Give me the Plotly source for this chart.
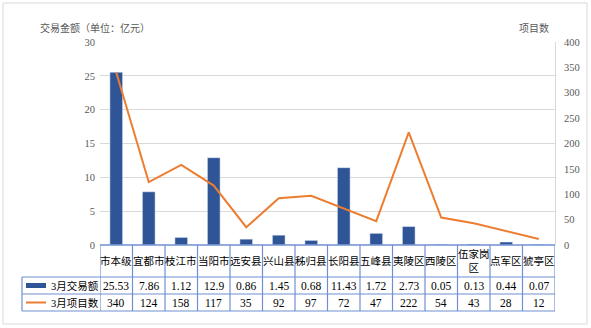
import plotly.graph_objects as go

# 各区县3月交易额（亿元）与项目数
regions = ["市本级", "宜都市", "枝江市", "当阳市", "远安县", "兴山县", "秭归县",
           "长阳县", "五峰县", "夷陵区", "西陵区", "伍家岗区", "点军区", "猇亭区"]
amount = [25.53, 7.86, 1.12, 12.9, 0.86, 1.45, 0.68, 11.43, 1.72, 2.73, 0.05, 0.13, 0.44, 0.07]
projects = [340, 124, 158, 117, 35, 92, 97, 72, 47, 222, 54, 43, 28, 12]
series_names = ["3月交易额", "3月项目数"]
left_ticks = [0, 5, 10, 15, 20, 25, 30]
right_ticks = [0, 50, 100, 150, 200, 250, 300, 350, 400]

BLUE = "#2F5597"
ORANGE = "#ED7D31"
GRID = "#D9D9D9"
TABLE = "#6F8FD2"
TXT = "#595959"
FONT = "Liberation Serif, Noto Sans CJK SC, serif"

W, H = 591, 328
L, R, T, B = 100, 36, 42, 83
PW, PH = W - L - R, H - T - B


def px_x(p):
    return (p - L) / PW


def px_y(p):
    return (H - B - p) / PH


idx = list(range(len(regions)))

fig = go.Figure()
fig.add_trace(go.Bar(x=idx, y=amount, marker_color=BLUE, width=0.39,
                     name=series_names[0], showlegend=False))
fig.add_trace(go.Scatter(x=idx, y=projects, mode="lines", yaxis="y2",
                         line=dict(color=ORANGE, width=2),
                         name=series_names[1], showlegend=False))

shapes = []
annotations = []

# data table under the plot: header row, two value rows
row_tops = [245, 277, 294, 311]
for k, yy in enumerate(row_tops[1:]):
    shapes.append(dict(type="line", xref="paper", yref="paper",
                       x0=px_x(22), x1=1, y0=px_y(yy), y1=px_y(yy),
                       line=dict(color=TABLE, width=1.2)))
shapes.append(dict(type="line", xref="paper", yref="paper",
                   x0=0, x1=1, y0=0, y1=0, line=dict(color=TABLE, width=1.5)))
for i in range(len(regions) + 1):
    shapes.append(dict(type="line", xref="x", yref="paper",
                       x0=i - 0.5, x1=i - 0.5, y0=0, y1=px_y(311),
                       line=dict(color=TABLE, width=1.2)))
shapes.append(dict(type="line", xref="paper", yref="paper",
                   x0=px_x(22), x1=px_x(22), y0=px_y(277), y1=px_y(311),
                   line=dict(color=TABLE, width=1.2)))

# legend keys inside the table
shapes.append(dict(type="rect", xref="paper", yref="paper",
                   x0=px_x(26), x1=px_x(46), y0=px_y(288), y1=px_y(283),
                   fillcolor=BLUE, line=dict(width=0)))
shapes.append(dict(type="line", xref="paper", yref="paper",
                   x0=px_x(26), x1=px_x(46), y0=px_y(302.5), y1=px_y(302.5),
                   line=dict(color=ORANGE, width=2)))
for name, yy in zip(series_names, [285.5, 302.5]):
    annotations.append(dict(text=name, xref="paper", yref="paper",
                            x=px_x(49), y=px_y(yy), xanchor="left", yanchor="middle",
                            showarrow=False, font=dict(family=FONT, size=10.5, color="#000")))

for i, name in enumerate(regions):
    label = name if len(name) <= 3 else name[:3] + "<br>" + name[3:]
    annotations.append(dict(text=label, xref="x", yref="paper", x=i, y=px_y(261),
                            xanchor="center", yanchor="middle", showarrow=False,
                            font=dict(family=FONT, size=10.5, color="#000")))
    annotations.append(dict(text=str(amount[i]), xref="x", yref="paper", x=i, y=px_y(285.5),
                            xanchor="center", yanchor="middle", showarrow=False,
                            font=dict(family=FONT, size=11.5, color="#000")))
    annotations.append(dict(text=str(projects[i]), xref="x", yref="paper", x=i, y=px_y(302.5),
                            xanchor="center", yanchor="middle", showarrow=False,
                            font=dict(family=FONT, size=11.5, color="#000")))

# axis titles
annotations.append(dict(text="交易金额（单位：亿元）", xref="paper", yref="paper",
                        x=px_x(38), y=px_y(28), xanchor="left", yanchor="middle",
                        showarrow=False, font=dict(family=FONT, size=10, color=TXT)))
annotations.append(dict(text="项目数", xref="paper", yref="paper",
                        x=px_x(534), y=px_y(28), xanchor="center", yanchor="middle",
                        showarrow=False, font=dict(family=FONT, size=10, color=TXT)))

# chart frame
shapes.append(dict(type="rect", xref="paper", yref="paper",
                   x0=px_x(3), x1=px_x(587), y0=px_y(324), y1=px_y(3),
                   line=dict(color=GRID, width=1), fillcolor="rgba(0,0,0,0)"))

fig.update_layout(
    width=W, height=H,
    margin=dict(l=L, r=R, t=T, b=B),
    paper_bgcolor="white", plot_bgcolor="white",
    showlegend=False,
    xaxis=dict(range=[-0.5, len(regions) - 0.5], showticklabels=False, ticks="",
               showgrid=False, zeroline=False, showline=False),
    yaxis=dict(range=[0, 30], tickvals=left_ticks, showgrid=True, gridcolor=GRID,
               gridwidth=1, zeroline=False, showline=False, ticks="",
               tickfont=dict(family=FONT, size=10.5, color=TXT), ticklabelstandoff=4),
    yaxis2=dict(range=[0, 400], tickvals=right_ticks, overlaying="y", side="right",
                showgrid=False, zeroline=False, showline=True, linecolor=GRID,
                ticks="", tickfont=dict(family=FONT, size=10.5, color=TXT),
                ticklabelstandoff=6),
    shapes=shapes,
    annotations=annotations,
)

fig.write_html("out.html")
